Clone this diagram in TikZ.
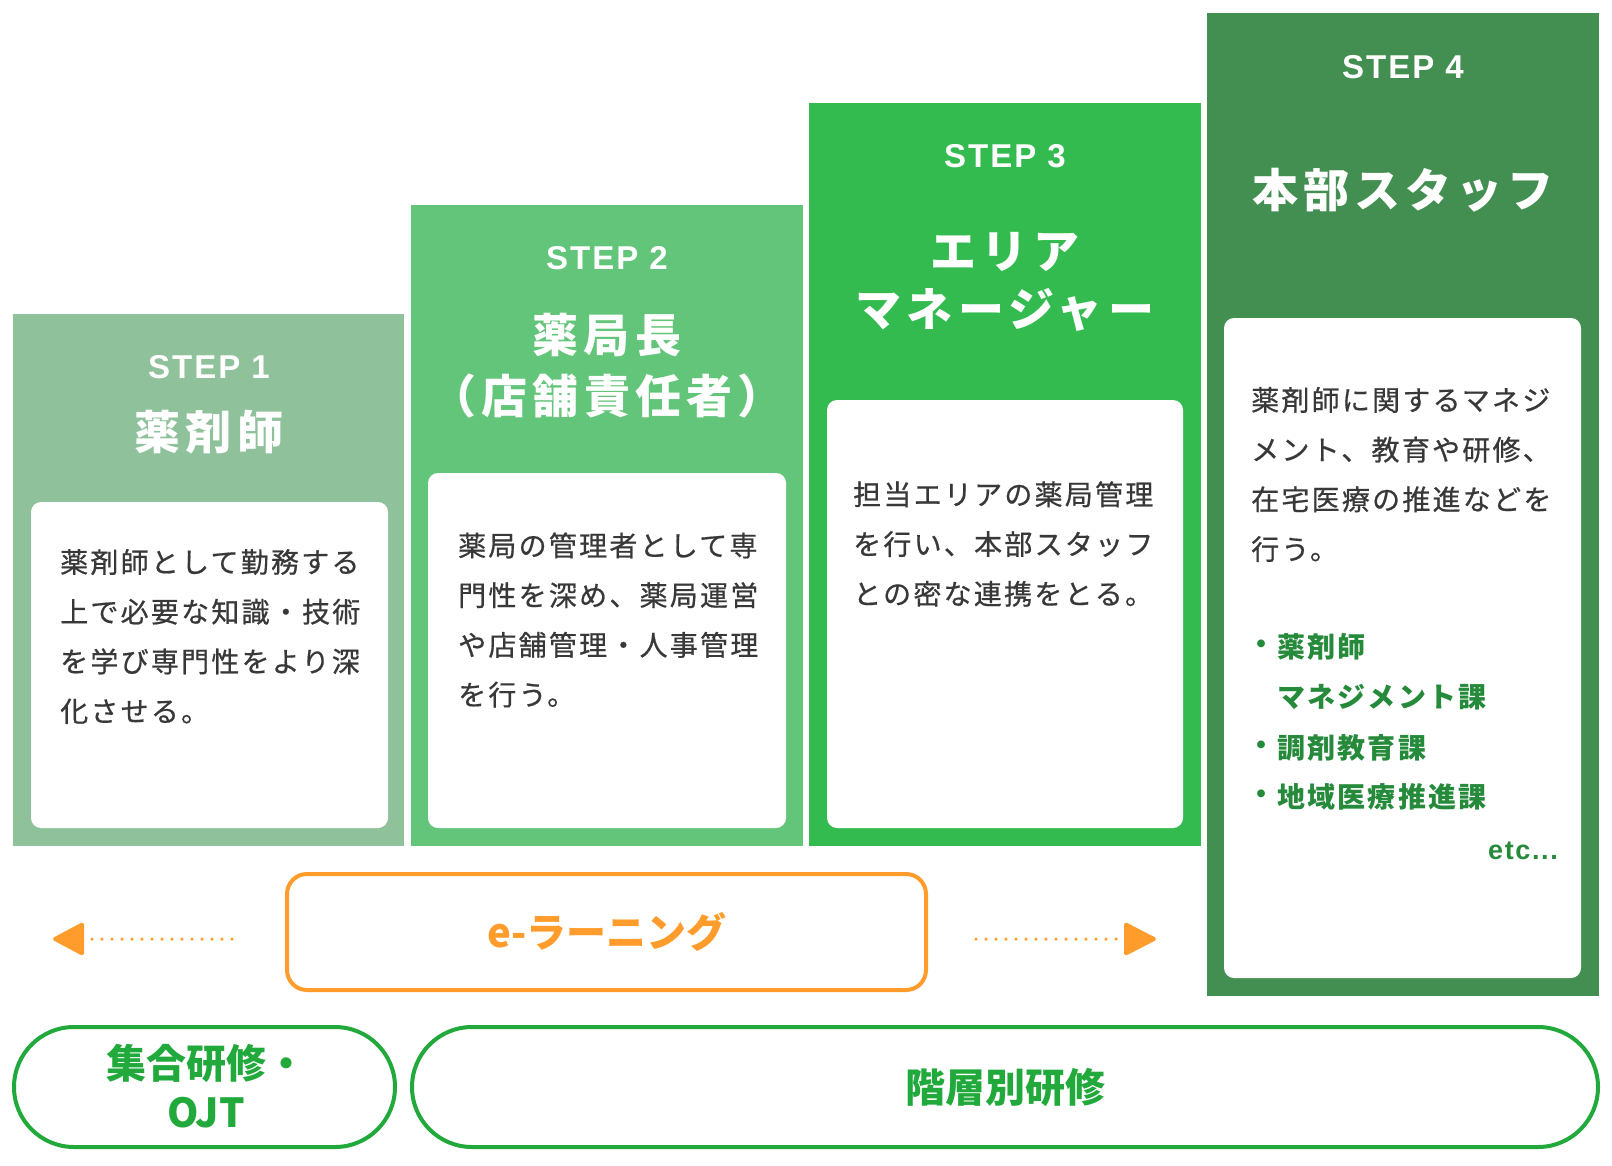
\documentclass[tikz,border=0pt]{standalone}
\usepackage{fontspec}
\setmainfont{Noto Sans CJK JP}
\newfontfamily\titlefont{Noto Sans CJK JP}[LetterSpace=11]
\newfontfamily\stepfont{Liberation Sans}[LetterSpace=6]
\newfontfamily\bodyfont{Noto Sans CJK JP}[LetterSpace=8,FakeBold=0.6]
\newfontfamily\listfont{Noto Sans CJK JP}[LetterSpace=8]
\newfontfamily\labelfont{Noto Sans CJK JP}
\newfontfamily\etcfont{Liberation Sans}[LetterSpace=6]
\definecolor{stepA}{HTML}{8FC19B}
\definecolor{stepB}{HTML}{63C579}
\definecolor{stepC}{HTML}{33BB4F}
\definecolor{stepD}{HTML}{428F51}
\definecolor{orangecol}{HTML}{FF9C2B}
\definecolor{pillgreen}{HTML}{21A93B}
\definecolor{listgreen}{HTML}{268A3B}
\definecolor{bodycol}{HTML}{383838}
\begin{document}
\begin{tikzpicture}[x=1pt,y=-1pt,
  steplabel/.style={text=white, inner sep=0pt, font=\stepfont\bfseries\fontsize{33}{36}\selectfont},
  titlelabel/.style={text=white, inner sep=0pt, font=\titlefont\bfseries\fontsize{46}{50}\selectfont},
  bodytext/.style={text=bodycol, inner sep=0pt, anchor=west, align=left, font=\bodyfont\fontsize{28}{49.7}\selectfont},
  listtext/.style={text=listgreen, inner sep=0pt, font=\listfont\bfseries\fontsize{28}{30}\selectfont},
  whitecard/.style={fill=white, rounded corners=10pt},
  pill/.style={draw=pillgreen, line width=4pt, rounded corners=60pt},
  pilltext/.style={text=pillgreen, inner sep=0pt, align=center, font=\labelfont\bfseries\fontsize{40}{49}\selectfont},
  dotline/.style={draw=orangecol, line width=3.5pt, line cap=round, dash pattern=on 0pt off 10pt},
  tipfill/.style={fill=orangecol, draw=orangecol, line width=2pt, line join=round, rounded corners=1.5pt}
]
\path[use as bounding box, fill=white] (0,0) rectangle (1612,1165);

% step blocks
\fill[stepA] (13,314) rectangle (404,846);
\fill[stepB] (411,205) rectangle (803,846);
\fill[stepC] (809,103) rectangle (1201,846);
\fill[stepD] (1207,13) rectangle (1599,996);

\path[whitecard] (31,502) rectangle (388,828);
\path[whitecard] (428,473) rectangle (786,828);
\path[whitecard] (827,400) rectangle (1183,828);
\path[whitecard] (1224,318) rectangle (1581,978);

% titles
\node[steplabel] (s1) at (209,367) {STEP 1};
\node[titlelabel] (t1) at (209,432) {薬剤師};
\node[steplabel] (s2) at (607,258) {STEP 2};
\node[titlelabel] (t2a) at (607,335) {薬局長};
\node[titlelabel] (t2b) at (607,396) {（店舗責任者）};
\node[steplabel] (s3) at (1005,156) {STEP 3};
\node[titlelabel] (t3a) at (1005,252) {エリア};
\node[titlelabel] (t3b) at (1005,310) {マネージャー};
\node[steplabel] (s4) at (1403,67) {STEP 4};
\node[titlelabel] (t4) at (1403,190) {本部スタッフ};

% body texts
\node[bodytext] (b1) at (60,636.5) {薬剤師として勤務する\\上で必要な知識・技術\\を学び専門性をより深\\化させる。};
\node[bodytext] (b2) at (458,620) {薬局の管理者として専\\門性を深め、薬局運営\\や店舗管理・人事管理\\を行う。};
\node[bodytext] (b3) at (853,544) {担当エリアの薬局管理\\を行い、本部スタッフ\\との密な連携をとる。};
\node[bodytext] (b4) at (1251,474.5) {薬剤師に関するマネジ\\メント、教育や研修、\\在宅医療の推進などを\\行う。};

% list
\node[listtext] (d1) at (1261,647) {・};
\node[listtext, anchor=west] (l1) at (1277,647) {薬剤師};
\node[listtext, anchor=west] (l1b) at (1277,697) {マネジメント課};
\node[listtext] (d2) at (1261,748) {・};
\node[listtext, anchor=west] (l2) at (1277,748) {調剤教育課};
\node[listtext] (d3) at (1261,797) {・};
\node[listtext, anchor=west] (l3) at (1277,797) {地域医療推進課};
\node[text=listgreen, inner sep=0pt, anchor=base east, font=\etcfont\bfseries\fontsize{27}{30}\selectfont] (etc) at (1558,859) {etc...};

% e-learning
\draw[draw=orangecol, line width=4pt, rounded corners=20pt] (287,874) rectangle (926,990);
\node[text=orangecol, inner sep=0pt, font=\labelfont\bfseries\fontsize{40}{44}\selectfont] (el) at (607,932) {e-ラーニング};

\coordinate (ld1) at (232,939);
\coordinate (ld2) at (90,939);
\coordinate (ltip) at (53,939);
\coordinate (lb1) at (83,923);
\coordinate (lb2) at (83,955);
\draw[dotline] (ld1) -- (ld2);
\path[tipfill] (ltip) -- (lb1) -- (lb2) -- cycle;

\coordinate (rd1) at (976,939);
\coordinate (rd2) at (1117,939);
\coordinate (rtip) at (1156,939);
\coordinate (rb1) at (1125,923);
\coordinate (rb2) at (1125,955);
\draw[dotline] (rd1) -- (rd2);
\path[tipfill] (rtip) -- (rb1) -- (rb2) -- cycle;

% bottom pills
\draw[pill] (14,1027) rectangle (395,1147);
\node[pilltext] (p1) at (206,1086) {集合研修・\\OJT};
\draw[pill] (412,1027) rectangle (1598,1147);
\node[pilltext] (p2) at (1005,1087) {階層別研修};
\end{tikzpicture}
\end{document}
